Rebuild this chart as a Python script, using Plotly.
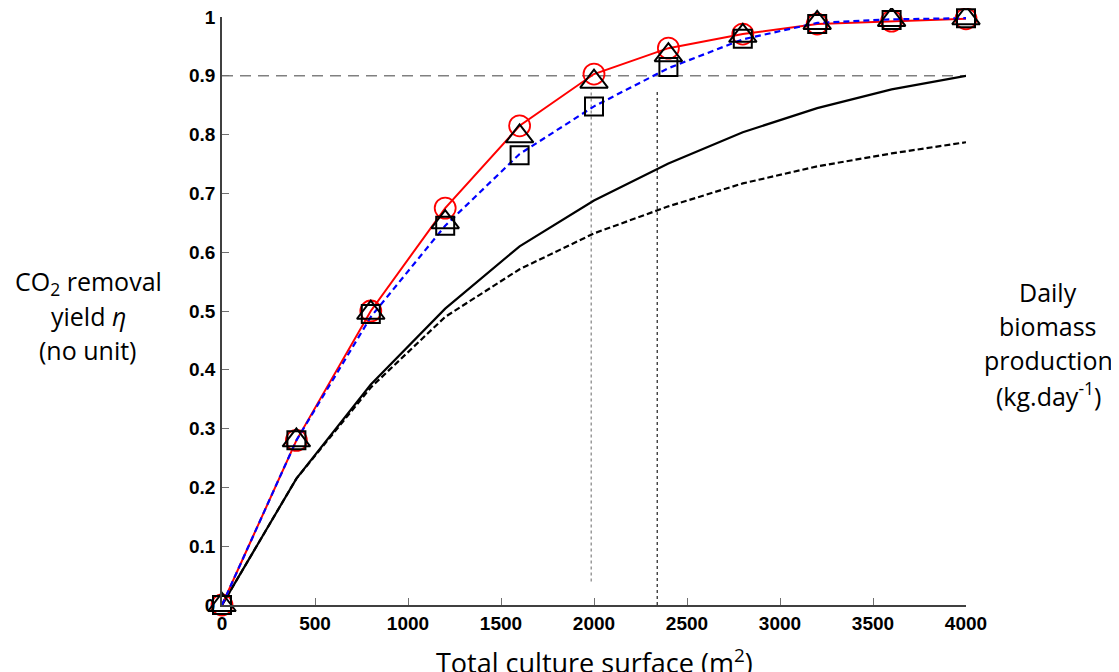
import plotly.graph_objects as go

surface = [0, 400, 800, 1200, 1600, 2000, 2400, 2800, 3200, 3600, 4000]

yield_circle = [0, 0.28, 0.50, 0.675, 0.815, 0.903, 0.947, 0.971, 0.988, 0.993, 0.997]
yield_triangle = [0, 0.28, 0.497, 0.651, 0.797, 0.89, 0.935, 0.968, 0.99, 0.995, 0.998]
yield_square = [0, 0.28, 0.495, 0.645, 0.765, 0.848, 0.915, 0.963, 0.988, 0.995, 0.998]
yield_blue = [0, 0.28, 0.49, 0.645, 0.767, 0.848, 0.913, 0.962, 0.99, 0.996, 0.998]
biomass_solid = [0, 0.215, 0.375, 0.504, 0.61, 0.688, 0.751, 0.804, 0.845, 0.877, 0.90]
biomass_dashed = [0, 0.215, 0.37, 0.49, 0.571, 0.632, 0.678, 0.717, 0.746, 0.768, 0.787]

target_x = [0, 4000]
target_y = [0.9, 0.9]
vline1_x = [1985, 1985]
vline1_y = [0.04, 0.878]
vline2_x = [2340, 2340]
vline2_y = [0, 0.875]

x_ticks = [0, 500, 1000, 1500, 2000, 2500, 3000, 3500, 4000]
y_ticks = [0, 0.1, 0.2, 0.3, 0.4, 0.5, 0.6, 0.7, 0.8, 0.9, 1]
y_labels = ["0", "0.1", "0.2", "0.3", "0.4", "0.5", "0.6", "0.7", "0.8", "0.9", "1"]

fig = go.Figure()

fig.add_trace(go.Scatter(x=vline1_x, y=vline1_y, mode="lines",
                         line=dict(color="#8a8a8a", width=1.3, dash="3px,3px")))
fig.add_trace(go.Scatter(x=vline2_x, y=vline2_y, mode="lines",
                         line=dict(color="#303030", width=1.3, dash="3px,3px")))
fig.add_trace(go.Scatter(x=target_x, y=target_y, mode="lines",
                         line=dict(color="#808080", width=1.5, dash="11px,7px")))
fig.add_trace(go.Scatter(x=surface, y=biomass_solid, mode="lines",
                         line=dict(color="black", width=2.2)))
fig.add_trace(go.Scatter(x=surface, y=biomass_dashed, mode="lines",
                         line=dict(color="black", width=2.2, dash="6px,3px")))
fig.add_trace(go.Scatter(x=surface, y=yield_circle, mode="lines+markers",
                         line=dict(color="#ff0000", width=2),
                         marker=dict(symbol="circle-open", size=21, color="#ff0000",
                                     line=dict(width=1.8, color="#ff0000"))))
fig.add_trace(go.Scatter(x=surface, y=yield_blue, mode="lines",
                         line=dict(color="#0000ff", width=2.2, dash="6px,4px")))
fig.add_trace(go.Scatter(x=surface, y=yield_triangle, mode="markers",
                         marker=dict(symbol="triangle-up-open", size=24, color="black",
                                     line=dict(width=2, color="black"))))
fig.add_trace(go.Scatter(x=surface, y=yield_square, mode="markers",
                         marker=dict(symbol="square-open", size=18, color="black",
                                     line=dict(width=2, color="black"))))

fig.update_traces(cliponaxis=False, showlegend=False, hoverinfo="skip")

tick_font = dict(family="Liberation Sans", size=19, color="black", weight="bold")
fig.update_xaxes(range=[0, 4000], tickvals=x_ticks, showgrid=False, zeroline=False,
                 showline=True, linecolor="#404040", linewidth=1.5,
                 ticks="inside", ticklen=7, tickcolor="#707070", tickwidth=1.3,
                 tickfont=tick_font, automargin=False, ticklabeloverflow="allow")
fig.update_yaxes(range=[0, 1], tickvals=y_ticks, ticktext=y_labels, showgrid=False,
                 zeroline=False, showline=True, linecolor="#404040", linewidth=1.5,
                 ticks="inside", ticklen=7, tickcolor="#707070", tickwidth=1.3,
                 tickfont=tick_font, automargin=False, ticklabeloverflow="allow",
                 ticklabelstandoff=1)

# the page body adds an 8px offset, so positions below are page pixels minus 8
OFF = 8
W, H = 1119, 672
L, R, T, B = 222 - OFF, W - (966 - OFF), 17 - OFF, H - (605 - OFF)
pw, ph = W - L - R, H - T - B

side_font = dict(family="Open Sans", size=25, color="black")
title_font = dict(family="Open Sans", size=27, color="black")
annos = [
    ("CO<sub>2</sub> removal", 88, 282, side_font),
    ("yield <i>η</i>", 88, 316, side_font),
    ("(no unit)", 88, 350, side_font),
    ("Daily", 1048, 292, side_font),
    ("biomass", 1048, 326, side_font),
    ("production", 1048, 360, side_font),
    ("(kg.day<sup>-1</sup>)", 1048, 394, side_font),
    ("Total culture surface (m<sup>2</sup>)", 594, 661, title_font),
]
new_annos = []
for text, px_x, px_y, fnt in annos:
    new_annos.append(dict(text=text, x=(px_x - OFF - L) / pw, y=(H - B - (px_y - OFF)) / ph,
                          xref="paper", yref="paper", showarrow=False, font=fnt,
                          xanchor="center", yanchor="middle"))

fig.update_layout(width=W, height=H, annotations=new_annos,
                  margin=dict(l=L, r=R, t=T, b=B),
                  paper_bgcolor="white", plot_bgcolor="white")

fig.write_html("out.html")
